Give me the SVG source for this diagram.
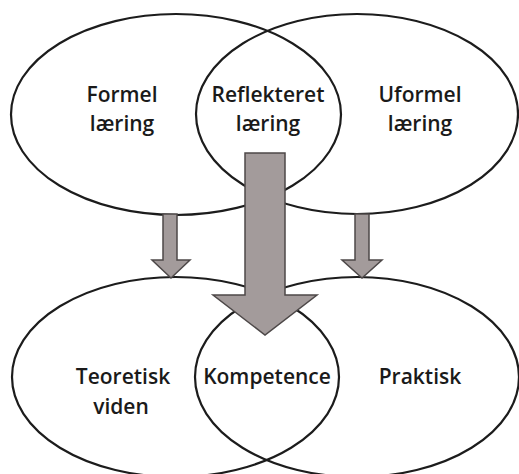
<svg xmlns="http://www.w3.org/2000/svg" width="519" height="474" viewBox="0 0 519 474">
  <style>
    .ring { fill: none; stroke: #1c1c1c; stroke-width: 2.2; }
    .label { font-family: "Open Sans", "Noto Sans", "Liberation Sans", sans-serif; font-size: 21px; font-weight: 600; fill: #1a1a1a; text-anchor: middle; }
    .flow { fill: #a39b9b; stroke: #4d4848; stroke-width: 1.5; stroke-linejoin: miter; }
  </style>
  <rect width="519" height="474" fill="#ffffff"/>

  <!-- learning forms (top) -->
  <g id="formel-laering">
    <ellipse class="ring" cx="176" cy="114.5" rx="165" ry="100.5"/>
    <text class="label" x="122" y="102">Formel</text>
    <text class="label" x="122" y="131">læring</text>
  </g>
  <g id="uformel-laering">
    <ellipse class="ring" cx="357" cy="114" rx="161" ry="100"/>
    <text class="label" x="420" y="102">Uformel</text>
    <text class="label" x="420" y="131">læring</text>
  </g>
  <g id="reflekteret-laering">
    <text class="label" x="268" y="102">Reflekteret</text>
    <text class="label" x="268" y="131">læring</text>
  </g>

  <!-- outcomes (bottom) -->
  <g id="teoretisk-viden">
    <ellipse class="ring" cx="175.5" cy="377" rx="163.5" ry="100"/>
    <text class="label" x="123" y="384">Teoretisk</text>
    <text class="label" x="121" y="414">viden</text>
  </g>
  <g id="praktisk">
    <ellipse class="ring" cx="357" cy="377" rx="162" ry="100"/>
    <text class="label" x="420" y="384">Praktisk</text>
  </g>
  <g id="kompetence">
    <text class="label" x="267" y="384">Kompetence</text>
  </g>

  <!-- block arrows -->
  <g id="connectors">
    <polygon class="flow" points="163,214 177,214 177,260 190,260 171,278 152,260 163,260"/>
    <polygon class="flow" points="355,214 369,214 369,260 382,260 362,278 342,260 355,260"/>
    <polygon class="flow" points="245,153 285,153 285,295 317,295 265,335 213,295 245,295"/>
  </g>
</svg>
